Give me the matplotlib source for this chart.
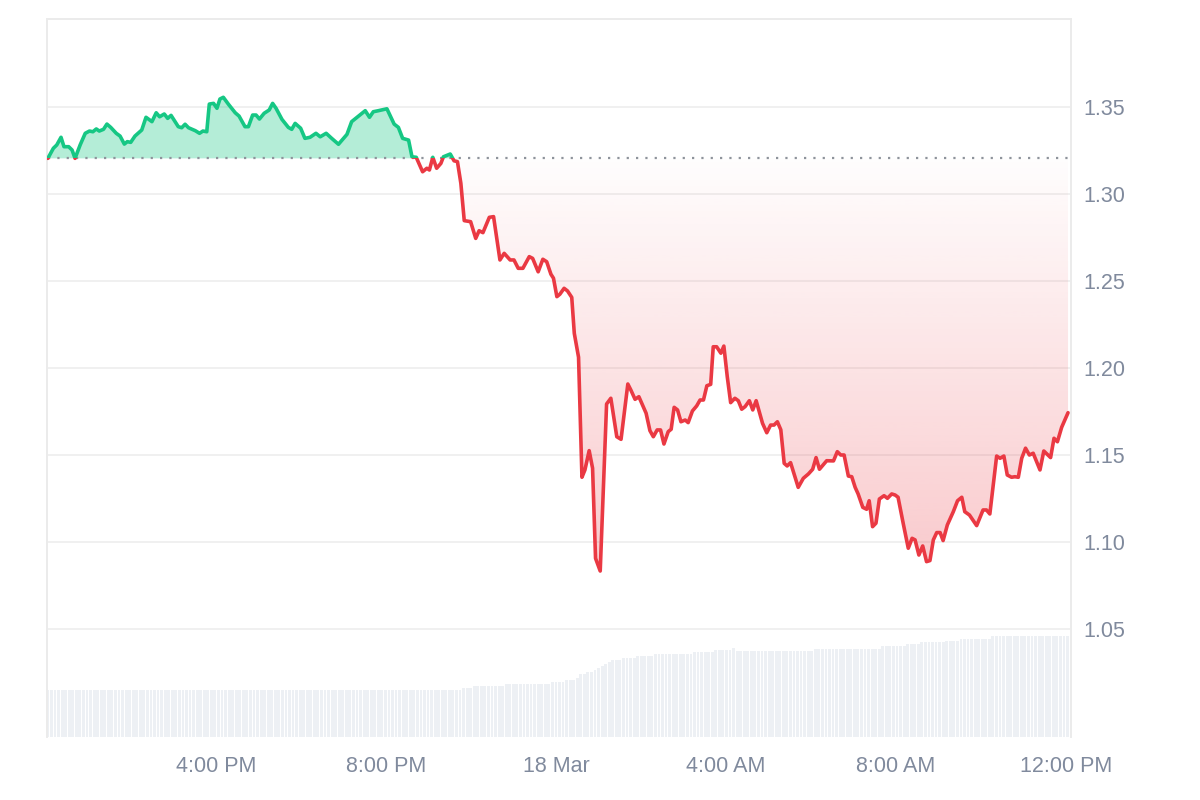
"""24h price chart against the opening price, with the volume bars along the bottom.

Above the open the line and area are green, below it red with a fading fill.
Writes out.png (1200x800).
"""
from __future__ import annotations

import matplotlib

matplotlib.use("Agg")
import matplotlib.pyplot as plt
import numpy as np
from matplotlib.colors import to_rgb
from matplotlib.patches import Rectangle
from matplotlib.path import Path

OUT = "out.png"

GREEN = "#16c784"
RED = "#ea3943"
LABEL = "#808a9d"
FRAME = "#ebebeb"

# hours since 12:00 PM, 17 Mar
HOURS = [
    0.04, 0.17, 0.25, 0.35, 0.42, 0.53, 0.61, 0.68, 0.80, 0.92,
    1.02, 1.10, 1.18, 1.25, 1.35, 1.43, 1.52, 1.65, 1.74, 1.84,
    1.91, 1.99, 2.09, 2.25, 2.35, 2.49, 2.59, 2.67, 2.78, 2.86,
    2.94, 3.11, 3.19, 3.27, 3.35, 3.51, 3.61, 3.69, 3.78, 3.84,
    3.94, 4.02, 4.09, 4.17, 4.29, 4.45, 4.54, 4.68, 4.76, 4.86,
    4.94, 5.02, 5.13, 5.25, 5.33, 5.41, 5.55, 5.70, 5.78, 5.86,
    5.99, 6.09, 6.21, 6.35, 6.45, 6.59, 6.72, 6.88, 7.08, 7.19,
    7.51, 7.61, 7.70, 7.82, 8.02, 8.19, 8.29, 8.39, 8.53, 8.61,
    8.71, 8.86, 8.96, 9.02, 9.10, 9.19, 9.29, 9.35, 9.51, 9.60,
    9.68, 9.76, 9.84, 9.99, 10.11, 10.19, 10.28, 10.43, 10.53, 10.68,
    10.78, 10.92, 11.01, 11.11, 11.22, 11.37, 11.45, 11.58, 11.69, 11.78,
    11.88, 11.94, 12.02, 12.09, 12.19, 12.27, 12.37, 12.43, 12.53, 12.61,
    12.68, 12.78, 12.86, 12.93, 13.04, 13.11, 13.19, 13.29, 13.43, 13.53,
    13.69, 13.76, 13.86, 13.95, 14.12, 14.21, 14.29, 14.38, 14.46, 14.54,
    14.64, 14.71, 14.78, 14.86, 14.94, 15.04, 15.11, 15.21, 15.31, 15.39,
    15.47, 15.55, 15.64, 15.70, 15.78, 15.88, 15.95, 16.03, 16.11, 16.21,
    16.29, 16.37, 16.45, 16.55, 16.63, 16.71, 16.86, 16.96, 17.05, 17.13,
    17.21, 17.29, 17.37, 17.44, 17.52, 17.70, 17.82, 17.94, 18.04, 18.12,
    18.20, 18.37, 18.53, 18.62, 18.70, 18.78, 18.88, 18.96, 19.04, 19.11,
    19.22, 19.31, 19.37, 19.45, 19.53, 19.61, 19.72, 19.80, 19.90, 19.98,
    20.05, 20.17, 20.29, 20.38, 20.45, 20.54, 20.63, 20.72, 20.80, 20.88,
    20.96, 21.04, 21.11, 21.21, 21.35, 21.45, 21.55, 21.62, 21.73, 21.90,
    22.05, 22.13, 22.21, 22.37, 22.45, 22.54, 22.62, 22.72, 22.80, 22.88,
    22.96, 23.05, 23.14, 23.23, 23.39, 23.48, 23.64, 23.72, 23.80, 23.90,
    24.05,
]

PRICE = [
    1.3205, 1.3263, 1.3282, 1.3326, 1.3272, 1.3272, 1.3253, 1.3205, 1.3282, 1.3349,
    1.3362, 1.3358, 1.3374, 1.3362, 1.3372, 1.3402, 1.3383, 1.3349, 1.3333, 1.3287,
    1.3301, 1.3297, 1.3333, 1.3368, 1.3441, 1.3416, 1.3467, 1.3444, 1.3460, 1.3435,
    1.3452, 1.3387, 1.3381, 1.3401, 1.3381, 1.3364, 1.3349, 1.3362, 1.3358, 1.3517,
    1.3521, 1.3493, 1.3546, 1.3556, 1.3516, 1.3467, 1.3448, 1.3387, 1.3387, 1.3454,
    1.3454, 1.3431, 1.3464, 1.3483, 1.3521, 1.3493, 1.3429, 1.3383, 1.3372, 1.3406,
    1.3378, 1.3320, 1.3326, 1.3349, 1.3329, 1.3349, 1.3320, 1.3286, 1.3343, 1.3416,
    1.3479, 1.3441, 1.3473, 1.3479, 1.3490, 1.3402, 1.3383, 1.3320, 1.3310, 1.3214,
    1.3211, 1.3128, 1.3148, 1.3138, 1.3211, 1.3148, 1.3176, 1.3214, 1.3230, 1.3191,
    1.3186, 1.3062, 1.2847, 1.2841, 1.2745, 1.2789, 1.2778, 1.2866, 1.2870, 1.2621,
    1.2659, 1.2621, 1.2621, 1.2573, 1.2573, 1.2640, 1.2630, 1.2553, 1.2625, 1.2611,
    1.2539, 1.2516, 1.2410, 1.2424, 1.2458, 1.2443, 1.2406, 1.2199, 1.2062, 1.1372,
    1.1414, 1.1525, 1.1424, 1.0906, 1.0833, 1.1280, 1.1793, 1.1826, 1.1605, 1.1590,
    1.1908, 1.1874, 1.1820, 1.1835, 1.1740, 1.1640, 1.1605, 1.1644, 1.1644, 1.1563,
    1.1634, 1.1648, 1.1774, 1.1759, 1.1691, 1.1701, 1.1686, 1.1753, 1.1782, 1.1816,
    1.1816, 1.1898, 1.1906, 1.2122, 1.2122, 1.2085, 1.2126, 1.1950, 1.1801, 1.1826,
    1.1812, 1.1763, 1.1778, 1.1812, 1.1759, 1.1812, 1.1682, 1.1628, 1.1672, 1.1672,
    1.1691, 1.1645, 1.1452, 1.1437, 1.1456, 1.1314, 1.1366, 1.1391, 1.1418, 1.1485,
    1.1418, 1.1467, 1.1466, 1.1519, 1.1500, 1.1500, 1.1379, 1.1375, 1.1314, 1.1276,
    1.1199, 1.1188, 1.1237, 1.1088, 1.1108, 1.1247, 1.1266, 1.1251, 1.1276, 1.1270,
    1.1257, 1.1108, 1.0964, 1.1021, 1.1012, 1.0925, 1.0977, 1.0887, 1.0893, 1.1012,
    1.1054, 1.1054, 1.1008, 1.1098, 1.1174, 1.1237, 1.1257, 1.1174, 1.1155, 1.1094,
    1.1184, 1.1184, 1.1161, 1.1494, 1.1481, 1.1494, 1.1385, 1.1372, 1.1375, 1.1372,
    1.1481, 1.1539, 1.1500, 1.1510, 1.1414, 1.1523, 1.1485, 1.1596, 1.1576, 1.1659,
    1.1743,
]

# 5-minute volume bars, stored run-length: level (M) and how many bars hold it
VOL_LEVELS = [
    4.70, 4.87, 5.07, 5.27, 5.47, 5.67, 5.87, 6.27, 6.47, 6.70,
    6.90, 7.10, 7.30, 7.47, 7.67, 7.87, 8.07, 8.27, 8.47, 8.67,
    8.87, 8.63, 8.83, 9.07, 9.27, 9.47, 9.63, 9.83, 10.07,
]
VOL_RUNS = [
    117, 3, 9, 13, 4, 3, 1, 2, 2, 1,
    1, 1, 1, 1, 3, 4, 5, 11, 6, 5,
    1, 22, 19, 7, 4, 7, 4, 9, 22,
]
BAR_HOURS = 5 / 60

TICK_HOURS = [4, 8, 12, 16, 20, 24]
TICK_LABELS = ["4:00 PM", "8:00 PM", "18 Mar", "4:00 AM", "8:00 AM", "12:00 PM"]
Y_TICKS = [1.05, 1.10, 1.15, 1.20, 1.25, 1.30, 1.35]

XLIM = (0.02, 24.12)
YLIM = (0.9879, 1.4006)


def main() -> None:
    plt.rcParams["font.family"] = ["Liberation Sans", "DejaVu Sans"]

    hours = np.array(HOURS)
    price = np.array(PRICE)
    base = price[0]

    fig = plt.figure(figsize=(12, 8), dpi=100)
    rect = [47 / 1200, 63 / 800, 1024 / 1200, 718 / 800]

    # volume sits on its own axes underneath
    ax_v = fig.add_axes(rect)
    vol = np.repeat(VOL_LEVELS, VOL_RUNS)
    t_bar = (np.arange(vol.size) + 0.5) * BAR_HOURS
    ax_v.bar(t_bar, vol, width=BAR_HOURS * 0.8, color="#edf0f4", linewidth=0)
    ax_v.set_xlim(XLIM[0], XLIM[1] - 0.08)
    ax_v.set_ylim(0, 71.8)
    ax_v.axis("off")

    ax = fig.add_axes(rect)
    ax.patch.set_visible(False)

    # green area above the open
    ax.fill_between(hours, price, base, where=price >= base, interpolate=True,
                    color=GREEN, alpha=0.32, lw=0, zorder=1)

    # red area below the open, fading towards the open line
    red = ax.fill_between(hours, price, base, where=price <= base, interpolate=True,
                          color="none", lw=0)
    clip = Path.make_compound_path(*red.get_paths())
    rgba = np.zeros((256, 1, 4))
    rgba[..., :3] = to_rgb(RED)
    rgba[..., 3] = np.linspace(0.01, 0.27, 256)[:, None]
    im = ax.imshow(rgba, extent=[hours[0], hours[-1], price.min(), base],
                   origin="upper", aspect="auto", interpolation="bilinear", zorder=1)
    im.set_clip_path(clip, ax.transData)

    ax.hlines(base, hours[0], hours[-1], color="#8e939b", lw=1.6,
              linestyles=(0, (1, 3.2)), zorder=2)

    # one line, clipped twice: green above the open, red below
    for color, lo, hi in ((GREEN, base, YLIM[1]), (RED, YLIM[0], base)):
        line, = ax.plot(hours, price, color=color, lw=2.6,
                        solid_joinstyle="round", solid_capstyle="round", zorder=3)
        line.set_clip_path(Rectangle((XLIM[0], lo), XLIM[1] - XLIM[0], hi - lo,
                                     transform=ax.transData))

    ax.set_xlim(*XLIM)
    ax.set_ylim(*YLIM)
    ax.set_xticks(TICK_HOURS, TICK_LABELS)
    ax.yaxis.tick_right()
    ax.set_yticks(Y_TICKS, [f"{v:.2f}" for v in Y_TICKS])
    ax.tick_params(length=0, labelsize=15.5, labelcolor=LABEL)
    ax.tick_params(axis="x", pad=14)
    ax.tick_params(axis="y", pad=9)
    ax.yaxis.grid(True, color="#eeeeee", lw=1.2)
    ax.set_axisbelow(True)

    for side in ("left", "top", "right"):
        ax.spines[side].set_color(FRAME)
        ax.spines[side].set_linewidth(1.4)
    ax.spines["bottom"].set_visible(False)

    fig.savefig(OUT, dpi=100)
    print(f"wrote {OUT}")


if __name__ == "__main__":
    main()
